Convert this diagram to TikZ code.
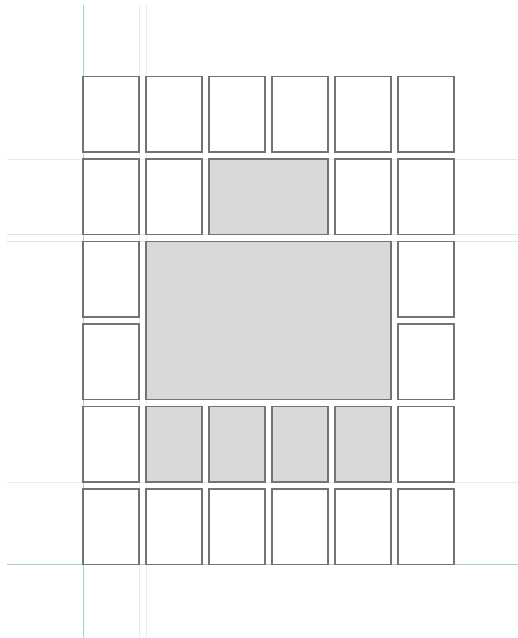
\documentclass[tikz,border=0pt]{standalone}
\begin{document}
\begin{tikzpicture}[x=1pt,y=-1pt,
  cell/.style={draw=black!55, line width=1.1pt, fill=white, rectangle, inner sep=0pt, outer sep=0pt},
  shaded/.style={cell, fill=black!15},
  guideteal/.style={draw={rgb,255:red,160;green,214;blue,200}, line width=1pt},
  guidelight/.style={draw=black!8, line width=1pt},
  guidemid/.style={draw={rgb,255:red,212;green,232;blue,226}, line width=1pt}]
\useasboundingbox (0,0) rectangle (518,638);
% guide lines
\draw[guidelight] (7,159) -- (518,159);
\draw[guidemid] (7,234.5) -- (518,234.5);
\draw[guidemid] (7,241.5) -- (518,241.5);
\draw[guidelight] (7,482) -- (518,482);
\draw[guideteal] (7,564.5) -- (518,564.5);
\draw[guideteal] (83,5) -- (83,638);
\draw[guidelight] (139,5) -- (139,638);
\draw[guidelight] (146,5) -- (146,638);
% white cells
\foreach \c/\x in {1/83,2/146,3/209,4/272,5/335,6/398}{
  \foreach \r/\y in {1/76.5,6/489}{
    \node[cell, minimum width=56pt, minimum height=75.5pt, anchor=north west] (c\r\c) at (\x,\y) {};
  }
}
\foreach \r/\y in {2/159,3/241.5,4/324,5/406.5}{
  \node[cell, minimum width=56pt, minimum height=75.5pt, anchor=north west] (c\r1) at (83,\y) {};
  \node[cell, minimum width=56pt, minimum height=75.5pt, anchor=north west] (c\r6) at (398,\y) {};
}
\node[cell, minimum width=56pt, minimum height=75.5pt, anchor=north west] (c22) at (146,159) {};
\node[cell, minimum width=56pt, minimum height=75.5pt, anchor=north west] (c25) at (335,159) {};
% shaded blocks
\node[shaded, minimum width=119pt, minimum height=75.5pt, anchor=north west] (top) at (209,159) {};
\node[shaded, minimum width=245pt, minimum height=158pt, anchor=north west] (big) at (146,241.5) {};
\foreach \c/\x in {2/146,3/209,4/272,5/335}{
  \node[shaded, minimum width=56pt, minimum height=75.5pt, anchor=north west] (s5\c) at (\x,406.5) {};
}
\end{tikzpicture}
\end{document}
